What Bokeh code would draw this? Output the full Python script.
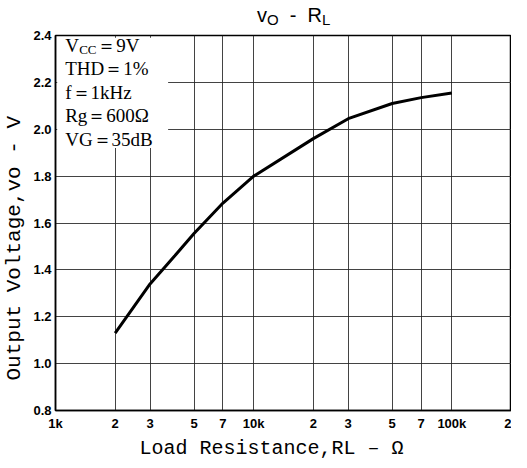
from bokeh.plotting import figure
from bokeh.models import FixedTicker, Label, BoxAnnotation, NumeralTickFormatter, Div
from bokeh.layouts import column
from bokeh.embed import file_html
from bokeh.resources import INLINE

# data
load_resistance = [2000, 3000, 4000, 5000, 7000, 10000, 20000, 30000, 50000, 70000, 100000]
output_voltage = [1.13, 1.34, 1.46, 1.555, 1.685, 1.80, 1.96, 2.045, 2.11, 2.135, 2.155]

x_ticks = [1000, 2000, 3000, 5000, 7000, 10000, 20000, 30000, 50000, 70000, 100000, 200000]
x_tick_labels = ["1k", "2", "3", "5", "7", "10k", "2", "3", "5", "7", "100k", "2"]
y_ticks = [0.8, 1.0, 1.2, 1.4, 1.6, 1.8, 2.0, 2.2, 2.4]

cond_lines = ["THD\uff1d1%", "f\uff1d1kHz", "Rg\uff1d600\u03a9", "VG\uff1d35dB"]

title = Div(
    text=('v<span style="font-size:15px;position:relative;top:3px">O</span>'
          '&nbsp;&nbsp;-&nbsp;&nbsp;R'
          '<span style="font-size:15px;position:relative;top:3px">L</span>'),
    width=511, height=18,
    styles={"font-family": "Liberation Sans", "font-size": "20px", "color": "black",
            "padding-left": "252px", "line-height": "20px", "white-space": "nowrap"})

p = figure(width=511, height=434, x_axis_type="log",
           x_range=(1000, 200000), y_range=(0.8, 2.4),
           output_backend="svg", toolbar_location=None,
           min_border_left=50, min_border_right=0,
           min_border_top=7, min_border_bottom=43,
           background_fill_color="white", border_fill_color="white")

p.outline_line_color = "black"
p.outline_line_width = 1.5

# axes
p.xaxis.ticker = FixedTicker(ticks=x_ticks, minor_ticks=[])
p.xaxis.major_label_overrides = {t: l for t, l in zip(x_ticks, x_tick_labels)}
p.yaxis.ticker = FixedTicker(ticks=y_ticks, minor_ticks=[])
p.yaxis.formatter = NumeralTickFormatter(format="0.0")
for ax in (p.xaxis, p.yaxis):
    ax.axis_line_color = "black"
    ax.axis_line_width = 1.5
    ax.major_tick_in = 0
    ax.major_tick_out = 0
    ax.minor_tick_in = 0
    ax.minor_tick_out = 0
    ax.major_label_text_font = "Liberation Sans"
    ax.major_label_text_font_style = "bold"
    ax.major_label_text_font_size = "13px"
    ax.major_label_text_color = "black"
    ax.axis_label_text_font = "Liberation Mono"
    ax.axis_label_text_font_style = "normal"
    ax.axis_label_text_color = "black"
p.xaxis.axis_label_text_font_size = "20px"
p.yaxis.axis_label_text_font_size = "21px"
p.xaxis.major_label_standoff = 5
p.yaxis.major_label_standoff = 4
p.xaxis.axis_label_standoff = 3
p.yaxis.axis_label_standoff = 4
p.xaxis.axis_label = "Load Resistance,RL  \u2013  \u03a9"
p.yaxis.axis_label = "Output Voltage,vo - V\u00a0\u00a0\u00a0\u00a0"

# grid
p.xgrid.ticker = FixedTicker(ticks=x_ticks, minor_ticks=[])
p.ygrid.ticker = FixedTicker(ticks=y_ticks, minor_ticks=[])
for g in (p.xgrid, p.ygrid):
    g.grid_line_color = "#222222"
    g.grid_line_width = 1
    g.grid_line_alpha = 0.85

# white box behind the conditions text
p.add_layout(BoxAnnotation(left=1020, right=3700, top=2.39, bottom=1.92,
                           fill_color="white", fill_alpha=1.0, line_color=None))

# curve
p.line(load_resistance, output_voltage, line_color="black", line_width=3)

# conditions text
serif = "Liberation Serif"
fs = "19px"
tx = 1119
p.add_layout(Label(x=tx, y=2.358, text="V", text_font=serif, text_font_size=fs,
                   text_baseline="middle", text_color="black"))
p.add_layout(Label(x=tx, y=2.358, x_offset=14, y_offset=-4, text="CC", text_font=serif,
                   text_font_size="13px", text_baseline="middle", text_color="black"))
p.add_layout(Label(x=tx, y=2.358, x_offset=32, text="\uff1d9V", text_font=serif,
                   text_font_size=fs, text_baseline="middle", text_color="black"))
for i, t in enumerate(cond_lines):
    p.add_layout(Label(x=tx, y=2.258 - 0.1 * i, text=t, text_font=serif,
                       text_font_size=fs, text_baseline="middle", text_color="black"))

layout = column(title, p, spacing=0)
open("out.html", "w").write(file_html(layout, INLINE))
